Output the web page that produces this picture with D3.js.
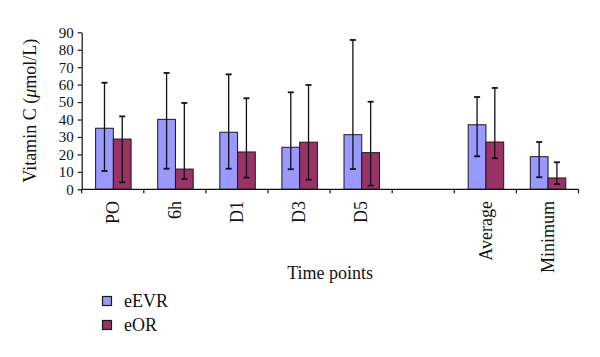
<!DOCTYPE html>
<html>
<head>
<meta charset="utf-8">
<script src="https://cdn.jsdelivr.net/npm/d3@7"></script>
<style>
  html, body { margin: 0; padding: 0; background: #fff; }
  svg { display: block; }
  text { font-family: "Liberation Serif", "DejaVu Serif", serif; fill: #111; }
</style>
</head>
<body>
<svg id="chart" width="600" height="357"></svg>
<script>
// ---- data ----
const categories = ["PO", "6h", "D1", "D3", "D5", "", "Average", "Minimum"];
const seriesNames = ["eEVR", "eOR"];
const eEVR     = [35.0, 40.1, 32.7, 24.1, 31.3, null, 37.0, 18.7];
const eEVR_hi  = [61.1, 66.7, 65.9, 55.6, 85.6, null, 52.9, 27.1];
const eEVR_lo  = [10.5, 11.8, 11.8, 11.5, 11.6, null, 18.9, 6.9];
const eOR      = [28.8, 11.6, 21.4, 27.0, 21.0, null, 27.1, 6.5];
const eOR_hi   = [41.8, 49.5, 52.2, 59.8, 50.2, null, 58.1, 15.5];
const eOR_lo   = [4.0, 5.9, 6.7, 5.5, 2.1, null, 17.8, 3.0];
const yTicks = [0, 10, 20, 30, 40, 50, 60, 70, 80, 90];
const colors = ["#9999FF", "#993366"];
const yTitle = "Vitamin C (";
const xTitle = "Time points";

// ---- layout ----
const svg = d3.select("#chart");
const plot = { left: 81.7, right: 578.5, top: 32.3, bottom: 189.3 };

const x = d3.scaleBand().domain(d3.range(categories.length))
  .range([plot.left, plot.right]).paddingInner(0).paddingOuter(0);
const y = d3.scaleLinear().domain([0, 90]).range([plot.bottom, plot.top]);

const bw = x.bandwidth() / 3.5;  // Excel gap width 150%
const inner = d3.scaleBand().domain([0, 1]).range([0, 2 * bw]);

const series = [
  { name: seriesNames[0], vals: eEVR, hi: eEVR_hi, lo: eEVR_lo },
  { name: seriesNames[1], vals: eOR, hi: eOR_hi, lo: eOR_lo }
];

// bars
series.forEach((s, si) => {
  const g = svg.append("g");
  s.vals.forEach((v, i) => {
    if (v == null) return;
    const x0 = x(i) + (x.bandwidth() - 2 * bw) / 2 + inner(si) + 0.6;
    g.append("rect")
      .attr("x", x0).attr("y", y(v))
      .attr("width", bw).attr("height", y(0) - y(v))
      .attr("fill", colors[si]).attr("stroke", "#1a1a1a").attr("stroke-width", 1);
  });
});

// error bars
series.forEach((s, si) => {
  const g = svg.append("g").attr("stroke", "#111").attr("stroke-width", 1.3);
  s.vals.forEach((v, i) => {
    if (v == null) return;
    const cx = x(i) + (x.bandwidth() - 2 * bw) / 2 + inner(si) + 0.6 + bw / 2;
    g.append("line").attr("x1", cx).attr("x2", cx).attr("y1", y(s.hi[i])).attr("y2", y(s.lo[i]));
    [s.hi[i], s.lo[i]].forEach(e => {
      g.append("line").attr("x1", cx - 3).attr("x2", cx + 3).attr("y1", y(e)).attr("y2", y(e)).attr("stroke-width", 1.8);
    });
  });
});

// y axis
const yAxis = d3.axisLeft(y).tickValues(yTicks).tickSize(4).tickPadding(4).tickSizeOuter(0);
const gy = svg.append("g").attr("transform", `translate(${plot.left},0)`).call(yAxis);
gy.selectAll("text").style("font-size", "15px").attr("fill", "#111")
  .attr("transform", "scale(1.15,1)").attr("x", -8 / 1.15 - 0.5);
gy.selectAll(".tick text").each(function() {
  // keep right-aligned at same spot after horizontal stretch
  d3.select(this).attr("transform", null).attr("x", -8);
});
gy.select(".domain").attr("stroke", "#111").attr("stroke-width", 1.2);
gy.selectAll(".tick line").attr("stroke", "#111").attr("stroke-width", 1.2);

// x axis line + ticks
const gx = svg.append("g");
gx.append("line").attr("x1", plot.left).attr("x2", plot.right)
  .attr("y1", plot.bottom).attr("y2", plot.bottom).attr("stroke", "#111").attr("stroke-width", 1.2);
d3.range(categories.length + 1).forEach(i => {
  const tx = i < categories.length ? x(i) : plot.right;
  gx.append("line").attr("x1", tx).attr("x2", tx).attr("y1", plot.bottom).attr("y2", plot.bottom + 4)
    .attr("stroke", "#111").attr("stroke-width", 1.2);
});
categories.forEach((c, i) => {
  if (!c) return;
  gx.append("text")
    .attr("transform", `translate(${x(i) + x.bandwidth() / 2},201) rotate(-90)`)
    .attr("text-anchor", "end").attr("dy", "0.35em")
    .style("font-size", "18px").text(c);
});

// axis titles
const yt = svg.append("text")
  .attr("transform", `translate(36,${(plot.top + plot.bottom) / 2}) rotate(-90)`)
  .attr("text-anchor", "middle").style("font-size", "18px");
yt.append("tspan").text(yTitle);
yt.append("tspan").style("font-style", "italic").text("μ");
yt.append("tspan").text("mol/L)");

svg.append("text").attr("x", (plot.left + plot.right) / 2).attr("y", 279)
  .attr("text-anchor", "middle").style("font-size", "18px").text(xTitle);

// legend
seriesNames.forEach((n, i) => {
  const ly = 301 + i * 24;
  svg.append("rect").attr("x", 102.5).attr("y", ly - 4.5).attr("width", 9).attr("height", 9)
    .attr("fill", colors[i]).attr("stroke", "#1a1a1a").attr("stroke-width", 1.2);
  svg.append("text").attr("x", 124).attr("y", ly + 6).style("font-size", "18px").text(n);
});
</script>
</body>
</html>
